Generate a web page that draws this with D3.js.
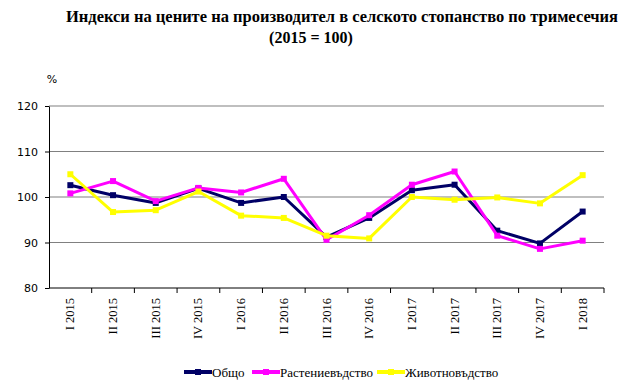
<!DOCTYPE html>
<html>
<head>
<meta charset="utf-8">
<script src="https://cdn.jsdelivr.net/npm/d3@7"></script>
<style>
  body { margin: 0; background: #fff; }
  #chart { width: 630px; height: 390px; }
</style>
</head>
<body>
<div id="chart"></div>
<script>
const categories = ["I 2015", "II 2015", "III 2015", "IV 2015", "I 2016", "II 2016", "III 2016",
  "IV 2016", "I 2017", "II 2017", "III 2017", "IV 2017", "I 2018"];
const obshto = [102.6, 100.4, 98.7, 101.9, 98.7, 100.0, 91.2, 95.4, 101.5, 102.7, 92.6, 89.8, 96.8];
const rastenievadstvo = [100.8, 103.5, 99.1, 102.0, 101.0, 104.0, 90.6, 96.0, 102.7, 105.6, 91.5, 88.6, 90.4];
const zhivotnovadstvo = [105.0, 96.7, 97.1, 101.2, 95.9, 95.4, 91.5, 90.9, 100.0, 99.4, 99.9, 98.6, 104.8];
const yTicks = [80, 90, 100, 110, 120];

const series = [
  { name: "Общо", values: obshto, color: "#000066" },
  { name: "Растениевъдство", values: rastenievadstvo, color: "#ff00ff" },
  { name: "Животновъдство", values: zhivotnovadstvo, color: "#ffff00" },
];

const W = 630, H = 390;
const margin = { top: 106, right: 26, bottom: 102, left: 49 };
const serif = "'Liberation Serif', 'Times New Roman', serif";

const svg = d3.select("#chart").append("svg")
  .attr("width", W).attr("height", H);

// Title
svg.append("text")
  .attr("x", 342).attr("y", 22)
  .attr("text-anchor", "middle")
  .attr("textLength", 552).attr("lengthAdjust", "spacingAndGlyphs")
  .style("font-family", serif)
  .style("font-weight", "bold").style("font-size", "16px")
  .text("Индекси на цените на производител в селското стопанство по тримесечия");
svg.append("text")
  .attr("x", 311).attr("y", 43)
  .attr("text-anchor", "middle")
  .style("font-family", serif)
  .style("font-weight", "bold").style("font-size", "16px")
  .text("(2015 = 100)");

svg.append("text")
  .attr("x", 52).attr("y", 83)
  .attr("text-anchor", "middle")
  .style("font-family", "'DejaVu Sans', sans-serif")
  .style("font-size", "11px")
  .text("%");

const x = d3.scaleBand()
  .domain(categories)
  .range([margin.left, W - margin.right]);

const y = d3.scaleLinear()
  .domain([80, 120])
  .range([H - margin.bottom, margin.top]);

// Gridlines
svg.append("g")
  .selectAll("line")
  .data(yTicks.slice(1))
  .enter().append("line")
  .attr("x1", margin.left).attr("x2", W - margin.right)
  .attr("y1", d => y(d)).attr("y2", d => y(d))
  .attr("stroke", "#808080").attr("stroke-width", 1.2);

// Y axis
const yAxis = svg.append("g")
  .attr("transform", `translate(${margin.left},0)`)
  .call(d3.axisLeft(y).tickValues(yTicks).tickSize(4).tickSizeOuter(0));
yAxis.select(".domain").attr("stroke", "#000");
yAxis.selectAll("line").attr("stroke", "#000");
yAxis.selectAll("text")
  .attr("x", -11)
  .style("font-family", "'DejaVu Sans', sans-serif")
  .style("font-size", "11px")
  .attr("fill", "#000");

// X axis
const xAxis = svg.append("g")
  .attr("transform", `translate(0,${H - margin.bottom})`);
xAxis.append("line")
  .attr("x1", margin.left).attr("x2", W - margin.right)
  .attr("stroke", "#000");
xAxis.selectAll("line.tick")
  .data(categories)
  .enter().append("line")
  .attr("class", "tick")
  .attr("x1", d => x(d) + x.bandwidth()).attr("x2", d => x(d) + x.bandwidth())
  .attr("y1", 0).attr("y2", 5)
  .attr("stroke", "#000");
xAxis.selectAll("text")
  .data(categories)
  .enter().append("text")
  .attr("transform", d => `translate(${x(d) + x.bandwidth() / 2 + 4},10) rotate(-90)`)
  .attr("text-anchor", "end")
  .style("font-family", serif)
  .style("font-size", "12.5px")
  .text(d => d);

// Lines
const line = d3.line()
  .x((d, i) => x(categories[i]) + x.bandwidth() / 2)
  .y(d => y(d));

series.forEach(s => {
  svg.append("path")
    .datum(s.values)
    .attr("fill", "none")
    .attr("stroke", s.color)
    .attr("stroke-width", 3)
    .attr("stroke-linejoin", "round")
    .attr("d", line);
  svg.append("g")
    .selectAll("rect")
    .data(s.values)
    .enter().append("rect")
    .attr("x", (d, i) => x(categories[i]) + x.bandwidth() / 2 - 3)
    .attr("y", d => y(d) - 3)
    .attr("width", 6).attr("height", 6)
    .attr("fill", s.color);
});

// Legend
const legendX = [184, 252, 377];
const legend = svg.append("g");
series.forEach((s, i) => {
  const g = legend.append("g").attr("transform", `translate(${legendX[i]},372)`);
  g.append("line")
    .attr("x1", 0).attr("x2", 28)
    .attr("stroke", s.color).attr("stroke-width", 4);
  g.append("rect")
    .attr("x", 11).attr("y", -3).attr("width", 6).attr("height", 6)
    .attr("fill", s.color);
  g.append("text")
    .attr("x", 28).attr("y", 4.5)
    .style("font-family", serif)
    .style("font-size", "13px")
    .text(s.name);
});
</script>
</body>
</html>
